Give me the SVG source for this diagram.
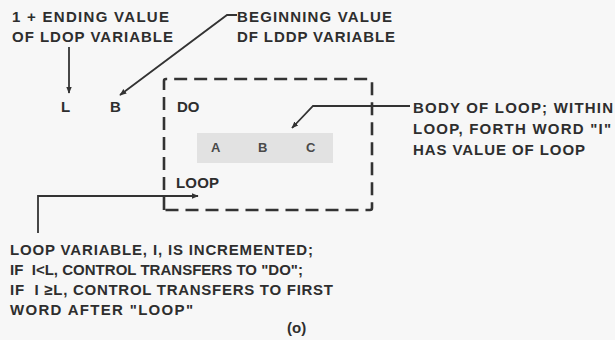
<svg xmlns="http://www.w3.org/2000/svg" width="615" height="340" viewBox="0 0 615 340">
<style>
  text { font-family: "Liberation Sans", Arial, sans-serif; font-weight: bold; font-size: 15px; fill: #2e2e2e; white-space: pre; }
  .small { font-size: 13px; fill: #4a4a4a; }
  .line { stroke: #333; stroke-width: 1.8; fill: none; }
  .box { stroke: #333; stroke-width: 2.6; fill: none; stroke-dasharray: 13 7; }
</style>
<defs>
  <marker id="arr" viewBox="0 0 10 10" refX="9" refY="5" markerWidth="7" markerHeight="7" markerUnits="userSpaceOnUse" orient="auto">
    <path d="M0,1 L10,5 L0,9 z" fill="#333"/>
  </marker>
</defs>
<rect width="615" height="340" fill="#f7f7f7"/>

<g id="label-ending">
  <text x="12" y="22" textLength="157" lengthAdjust="spacing">1 + ENDING VALUE</text>
  <text x="12" y="42" textLength="161" lengthAdjust="spacing">OF LDOP VARIABLE</text>
</g>
<g id="label-beginning">
  <text x="237" y="22" textLength="155" lengthAdjust="spacing">BEGINNING VALUE</text>
  <text x="237" y="42" textLength="158" lengthAdjust="spacing">DF LDDP VARIABLE</text>
</g>
<g id="node-L"><text x="61" y="112">L</text></g>
<g id="node-B"><text x="110" y="112">B</text></g>

<g id="loop-box">
  <path class="box" d="M164,210 L164,81 Q164,79 166,79 L370,79 Q372,79 372,81 L372,208 Q372,210 370,210 Z"/>
  <text x="177" y="112">DO</text>
  <text x="176" y="188" textLength="43" lengthAdjust="spacing">LOOP</text>
</g>

<g id="body">
  <rect x="197" y="133" width="136" height="30" fill="#e2e2e2"/>
  <text class="small" x="211" y="152">A</text>
  <text class="small" x="258" y="152">B</text>
  <text class="small" x="306" y="152">C</text>
</g>

<g id="label-body">
  <text x="413" y="113" textLength="200" lengthAdjust="spacing">BODY OF LOOP; WITHIN</text>
  <text x="413" y="134" textLength="198" lengthAdjust="spacing">LOOP, FORTH WORD "I"</text>
  <text x="413" y="155" textLength="172" lengthAdjust="spacing">HAS VALUE OF LOOP</text>
</g>

<g id="label-increment">
  <text x="10" y="255" textLength="303" lengthAdjust="spacing">LOOP VARIABLE, I, IS INCREMENTED;</text>
  <text x="10" y="275" textLength="293" lengthAdjust="spacing">IF  I&lt;L, CONTROL TRANSFERS TO "DO";</text>
  <text x="10" y="295" textLength="323" lengthAdjust="spacing">IF  I ≥L, CONTROL TRANSFERS TO FIRST</text>
  <text x="10" y="315" textLength="183" lengthAdjust="spacing">WORD AFTER "LOOP"</text>
  <text x="287" y="333">(o)</text>
</g>

<g id="connectors">
  <path class="line" d="M69,47 L69,93" marker-end="url(#arr)"/>
  <path class="line" d="M237,15 L227,15 L120,95" stroke-width="1.5" marker-end="url(#arr)"/>
  <path class="line" d="M410,106 L313,106 L292,128" marker-end="url(#arr)"/>
  <path class="line" d="M38,233 L38,196 L198,196" marker-end="url(#arr)"/>
</g>
</svg>
